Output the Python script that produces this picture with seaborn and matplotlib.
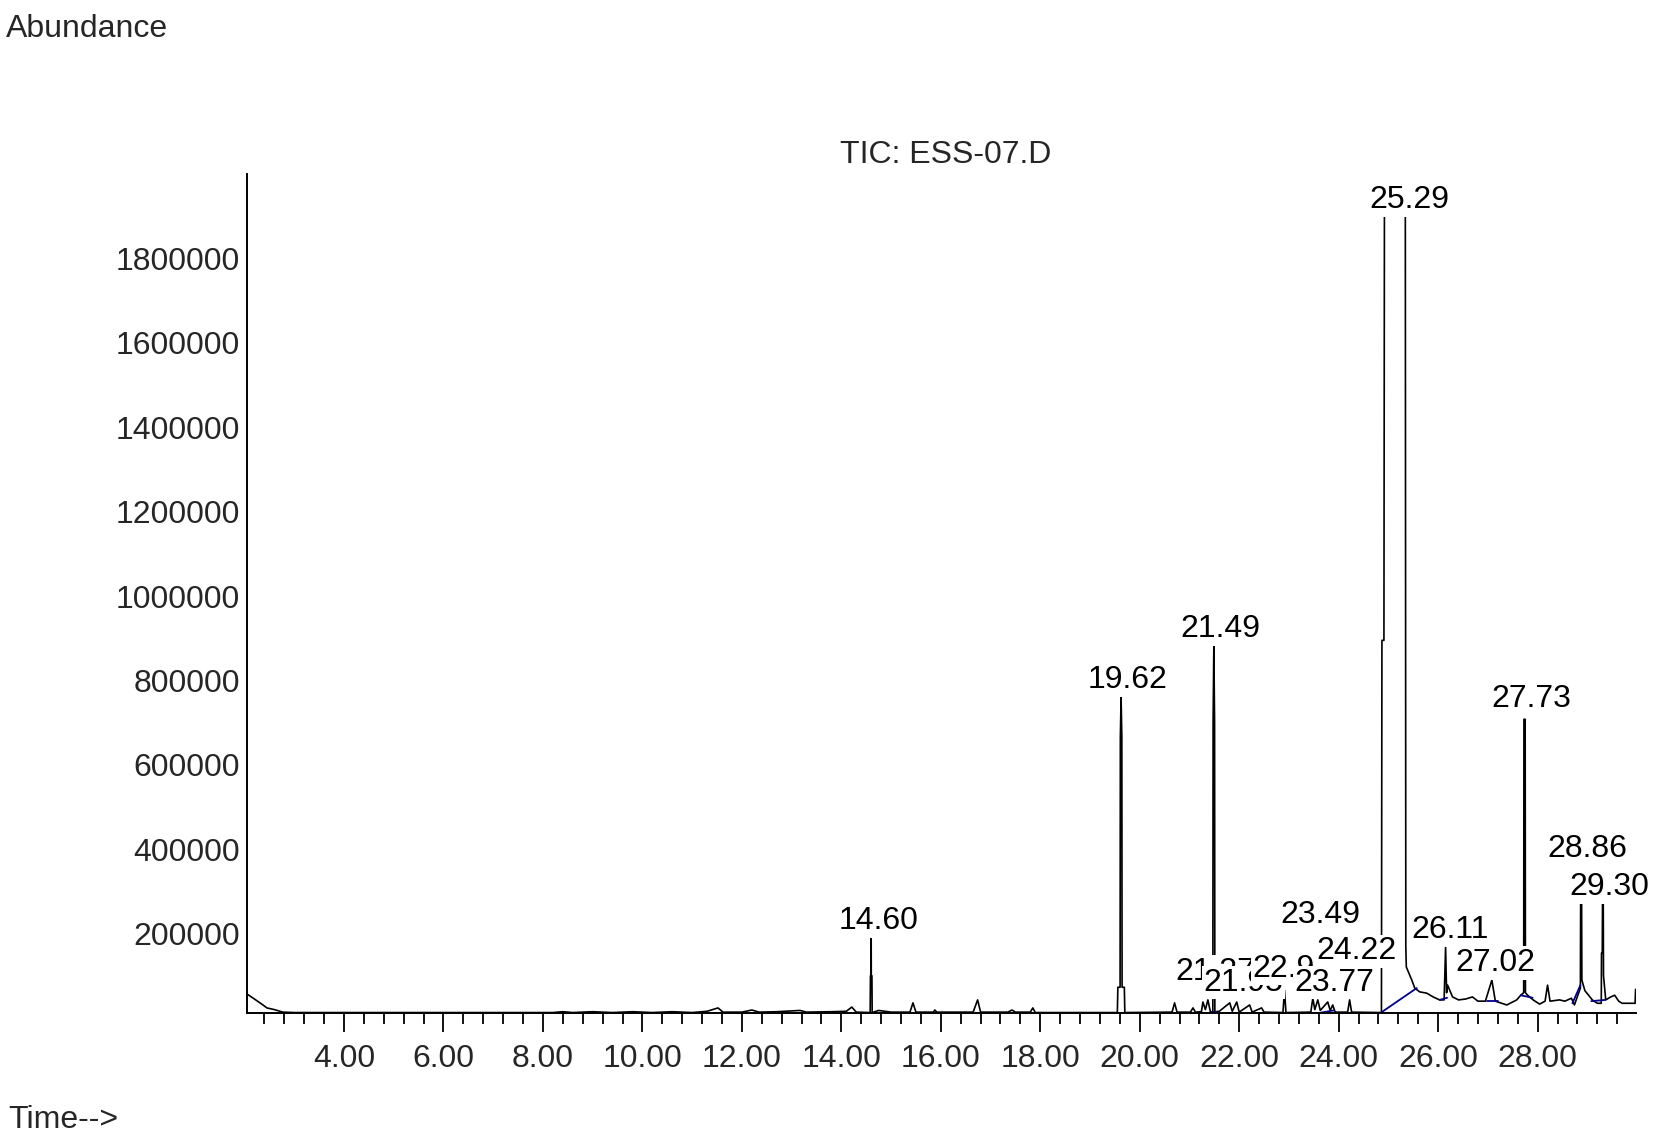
import matplotlib
matplotlib.use('Agg')
import matplotlib.pyplot as plt
import matplotlib.ticker as mticker
import seaborn as sns
import pandas as pd

# ===== DATA =====
# retention time (min) and abundance of the TIC trace
rt_trace = [
    2.05, 2.20, 2.37, 2.45, 2.60, 2.77, 3.00, 8.20, 8.40, 8.60, 9.00, 9.40,
    9.80, 10.20, 10.60, 11.00, 11.30, 11.52, 11.62, 12.00, 12.20, 12.35,
    12.70, 13.17, 13.30, 13.80, 14.10, 14.21, 14.30, 14.58, 14.585, 14.598,
    14.60, 14.602, 14.615, 14.62, 14.75, 15.00, 15.38, 15.44, 15.50, 15.85,
    15.88, 15.92, 16.65, 16.74, 16.80, 17.35, 17.43, 17.50, 17.80, 17.85,
    17.90, 19.55, 19.56, 19.605, 19.61, 19.625, 19.64, 19.645, 19.69, 19.70,
    20.65, 20.70, 20.75, 21.02, 21.07, 21.12, 21.24, 21.27, 21.32, 21.37,
    21.42, 21.47, 21.475, 21.49, 21.505, 21.51, 21.60, 21.81, 21.86, 21.95,
    22.00, 22.21, 22.26, 22.45, 22.50, 22.88, 22.91, 22.94, 23.44, 23.48,
    23.52, 23.58, 23.63, 23.78, 23.83, 23.88, 23.93, 24.18, 24.22, 24.26,
    24.86, 24.87, 24.91, 24.92, 25.34, 25.35, 25.36, 25.47, 25.53, 25.63,
    25.77, 25.90, 26.03, 26.12, 26.15, 26.17, 26.19, 26.29, 26.41, 26.55,
    26.69, 26.80, 26.95, 27.08, 27.15, 27.38, 27.58, 27.66, 27.72, 27.725,
    27.75, 27.755, 27.80, 27.91, 28.04, 28.15, 28.20, 28.25, 28.44, 28.55,
    28.68, 28.74, 28.86, 28.865, 28.885, 28.89, 28.95, 29.10, 29.20, 29.28,
    29.285, 29.30, 29.305, 29.32, 29.325, 29.37, 29.47, 29.55, 29.63, 29.70,
    29.96, 29.97,
]
abundance = [
    57000, 45000, 31000, 24000, 20000, 14000, 13000, 13000, 15000, 13000,
    15000, 13000, 15000, 13000, 15000, 13000, 16000, 24000, 14000, 14000,
    19000, 14000, 15000, 18000, 14000, 15000, 16000, 26000, 14000, 13000,
    100000, 100000, 196000, 100000, 100000, 13000, 18000, 14000, 14000, 36000,
    14000, 14000, 19000, 14000, 14000, 43000, 14000, 14000, 19000, 14000,
    14000, 24000, 13000, 13000, 73000, 73000, 665000, 760000, 665000, 73000,
    73000, 13000, 14000, 36000, 14000, 14000, 24000, 14000, 15000, 38000,
    20000, 43000, 15000, 15000, 700000, 883000, 700000, 15000, 16000, 36000,
    16000, 38000, 14000, 31000, 14000, 24000, 14000, 13000, 66000, 13000,
    14000, 47000, 20000, 43000, 18000, 38000, 18000, 31000, 14000, 14000,
    43000, 14000, 13000, 895000, 895000, 1930000, 1930000, 168000, 121000,
    90000, 71000, 62000, 59000, 50000, 43000, 43000, 168000, 60000, 78000,
    50000, 43000, 45000, 50000, 40000, 40000, 90000, 40000, 31000, 43000,
    54000, 60000, 708000, 708000, 60000, 54000, 43000, 33000, 40000, 78000,
    40000, 43000, 40000, 47000, 31000, 71000, 270000, 270000, 90000, 65000,
    43000, 35000, 35000, 154000, 154000, 270000, 270000, 100000, 43000,
    50000, 54000, 40000, 35000, 35000, 68000,
]

# integration baselines (blue): start rt, start abundance, end rt, end abundance
base_rt0 = [14.55, 19.55, 21.20, 21.47, 21.78, 22.85, 23.42, 23.65, 24.12,
            24.84, 26.03, 26.98, 27.66, 28.70, 29.08]
base_ab0 = [13000, 13000, 13000, 15000, 13000, 13000, 13000, 13000, 13000,
            12000, 43000, 40000, 54000, 35000, 40000]
base_rt1 = [14.66, 19.70, 21.45, 21.56, 21.98, 22.97, 23.62, 23.90, 24.28,
            25.57, 26.18, 27.20, 27.90, 28.86, 29.36]
base_ab1 = [13000, 13000, 13000, 15000, 13000, 13000, 13000, 18000, 13000,
            71000, 48000, 40000, 48000, 78000, 43000]

# peak labels, retention time and label height
peak_labels = ['14.60', '19.62', '21.37', '21.49', '21.95', '22.93', '23.49',
               '23.77', '24.22', '25.29', '26.11', '27.02', '27.73', '28.86',
               '29.30']
peak_rt = [14.60, 19.62, 21.37, 21.49, 21.95, 22.93, 23.49, 23.77, 24.22,
           25.29, 26.11, 27.02, 27.73, 28.86, 29.30]
label_level = [239000, 810000, 119000, 931000, 93000, 126000, 254000, 93000,
               168000, 1948000, 218000, 140000, 765000, 410000, 320000]

y_ticks = [200000, 400000, 600000, 800000, 1000000, 1200000, 1400000,
           1600000, 1800000]

# ===== STYLE =====
sns.set_style("white")
plt.rcParams['font.family'] = ['Liberation Sans Narrow', 'Liberation Sans',
                               'DejaVu Sans']
FS = 23
NAVY = '#00008B'

fig = plt.figure(figsize=(16.77, 11.41), dpi=100)
ax = fig.add_axes([0.1473, 0.1122, 0.8283, 0.7353])

# TIC trace
trace = pd.DataFrame({'rt': rt_trace, 'abundance': abundance})
sns.lineplot(data=trace, x='rt', y='abundance', sort=False, estimator=None,
             color='black', linewidth=1.2, ax=ax)

# integration baselines
segs = pd.DataFrame({
    'rt': base_rt0 + base_rt1,
    'abundance': base_ab0 + base_ab1,
    'seg': list(range(len(base_rt0))) * 2,
})
sns.lineplot(data=segs, x='rt', y='abundance', units='seg', estimator=None,
             color=NAVY, linewidth=1.3, ax=ax)

# peak labels (later ones blank out earlier ones, like ChemStation)
for lab, rt, lev in zip(peak_labels, peak_rt, label_level):
    ax.annotate(lab, xy=(rt, lev), xytext=(7, -12), textcoords='offset pixels',
                ha='center', va='baseline', fontsize=FS, color='black',
                bbox=dict(boxstyle='square,pad=0.05', fc='white', ec='none'),
                zorder=5, annotation_clip=False)

ax.set_xlim(2.05, 29.98)
ax.set_ylim(12000, 2000000)
ax.set_xlabel('')
ax.set_ylabel('')

ax.xaxis.set_major_locator(mticker.MultipleLocator(2))
ax.xaxis.set_minor_locator(mticker.MultipleLocator(0.4))
ax.xaxis.set_major_formatter(mticker.FormatStrFormatter('%.2f'))
ax.set_yticks(y_ticks)
ax.yaxis.set_major_formatter(mticker.FormatStrFormatter('%d'))

ax.tick_params(axis='x', which='major', direction='out', length=14, width=1.3,
               color='black', labelsize=FS, pad=8, bottom=True)
ax.tick_params(axis='x', which='minor', direction='out', length=8, width=1.3,
               color='black', bottom=True)
ax.tick_params(axis='y', which='major', length=0, labelsize=FS, pad=5)

for side in ['top', 'right']:
    ax.spines[side].set_visible(False)
for side in ['left', 'bottom']:
    ax.spines[side].set_color('black')
    ax.spines[side].set_linewidth(1.4)

fig.text(6 / 1677, 1 - 29 / 1141, 'Abundance', ha='left', va='center',
         fontsize=FS)
fig.text(946 / 1677, 1 - 155 / 1141, 'TIC: ESS-07.D', ha='center',
         va='center', fontsize=FS)
fig.text(8 / 1677, 1 - 1120 / 1141, 'Time-->', ha='left', va='center',
         fontsize=FS)

plt.savefig('out.png', dpi=100)
plt.close()
